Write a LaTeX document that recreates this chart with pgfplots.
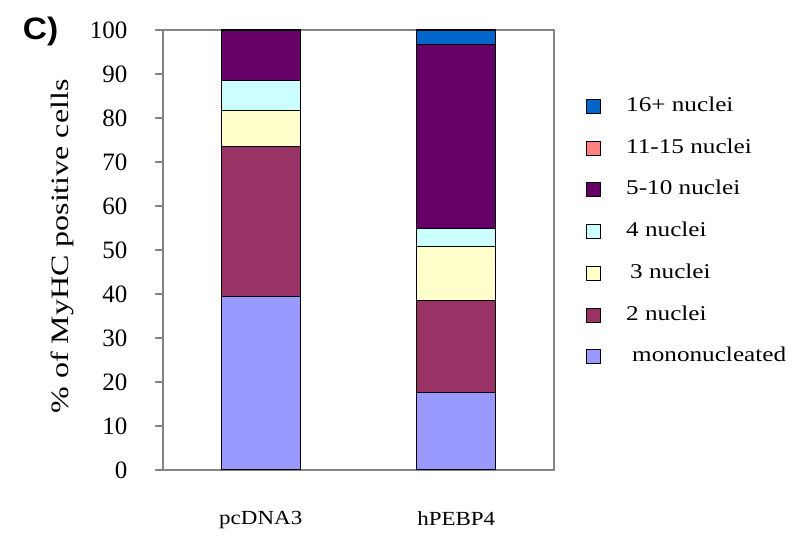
\documentclass[border=0pt]{standalone}
\usepackage{pgfplots}
\usepackage{graphicx}
\pgfplotsset{compat=1.18}
\usepackage{fontspec}
\setmainfont{Liberation Serif}
\newfontfamily\arialf{Liberation Sans}
\definecolor{cMono}{HTML}{9999FF}
\definecolor{cTwo}{HTML}{993366}
\definecolor{cThree}{HTML}{FFFFCC}
\definecolor{cFour}{HTML}{CCFFFF}
\definecolor{cFive}{HTML}{660066}
\definecolor{cEleven}{HTML}{FF8080}
\definecolor{cSixteen}{HTML}{0066CC}
\definecolor{frame}{HTML}{858585}
\newcommand\legtxt[1]{\scalebox{1.2}[1]{#1}}
\begin{document}
\begin{tikzpicture}[x=1pt,y=1pt]
\useasboundingbox (0,0) rectangle (805,537);
\begin{axis}[
  at={(163pt,67pt)}, anchor=south west,
  scale only axis, width=391pt, height=440pt,
  ybar stacked, bar width=79pt,
  xmin=-0.5, xmax=1.5, ymin=0, ymax=100,
  xtick={0,1}, xticklabels={pcDNA3,hPEBP4},
  ytick={0,10,...,100},
  axis line style={draw=frame, line width=1.5pt},
  tick align=outside, major tick length=8pt,
  ytick pos=left, xtick pos=bottom,
  y tick style={draw=frame, line width=1.2pt},
  x tick style={draw=none},
  /pgf/number format/assume math mode=true,
  yticklabel style={font=\fontsize{25}{25}\selectfont, anchor=east, xshift=-24pt},
  xticklabel style={font=\fontsize{20}{20}\selectfont, anchor=north, yshift=-30pt, xscale=1.15},
  ylabel={\scalebox{1.28}[1]{\% of MyHC positive cells}},
  every axis y label/.style={at={(axis description cs:-0.258,0.508)}, rotate=90, anchor=center, font=\fontsize{25}{25}\selectfont},
  every axis plot/.append style={draw=black, line width=1.1pt},
  legend image code/.code={\draw[#1, draw=black, line width=1pt] (0pt,-7pt) rectangle (14pt,7pt);},
  reverse legend,
  legend cell align=left,
  legend style={at={(rel axis cs:1,0.5416)}, anchor=west, xshift=32pt,
    draw=none, fill=none, inner sep=0pt,
    font=\fontsize{21}{21}\selectfont,
    nodes={inner sep=0pt, text height=14pt, text depth=4pt},
    row sep=23.7pt,
    /tikz/every odd column/.append style={column sep=25pt}},
]
\addplot[fill=cMono] coordinates {(0,39.4) (1,17.6)};
\addplot[fill=cTwo] coordinates {(0,34.1) (1,21.0)};
\addplot[fill=cThree] coordinates {(0,8.2) (1,12.2)};
\addplot[fill=cFour] coordinates {(0,6.8) (1,4.1)};
\addplot[fill=cFive] coordinates {(0,11.5) (1,41.8)};
\addplot[fill=cEleven] coordinates {(0,0) (1,0)};
\addplot[fill=cSixteen] coordinates {(0,0) (1,3.3)};
\legend{\hspace{6pt}\legtxt{mononucleated}, \legtxt{2 nuclei}, \hspace{4pt}\legtxt{3 nuclei}, \legtxt{4 nuclei}, \legtxt{5-10 nuclei}, \legtxt{11-15 nuclei}, \legtxt{16+ nuclei}}
\end{axis}
\node[font=\arialf\bfseries\fontsize{31}{31}\selectfont, anchor=base, xscale=1.08] at (40.5,497) {C)};
\end{tikzpicture}
\end{document}
